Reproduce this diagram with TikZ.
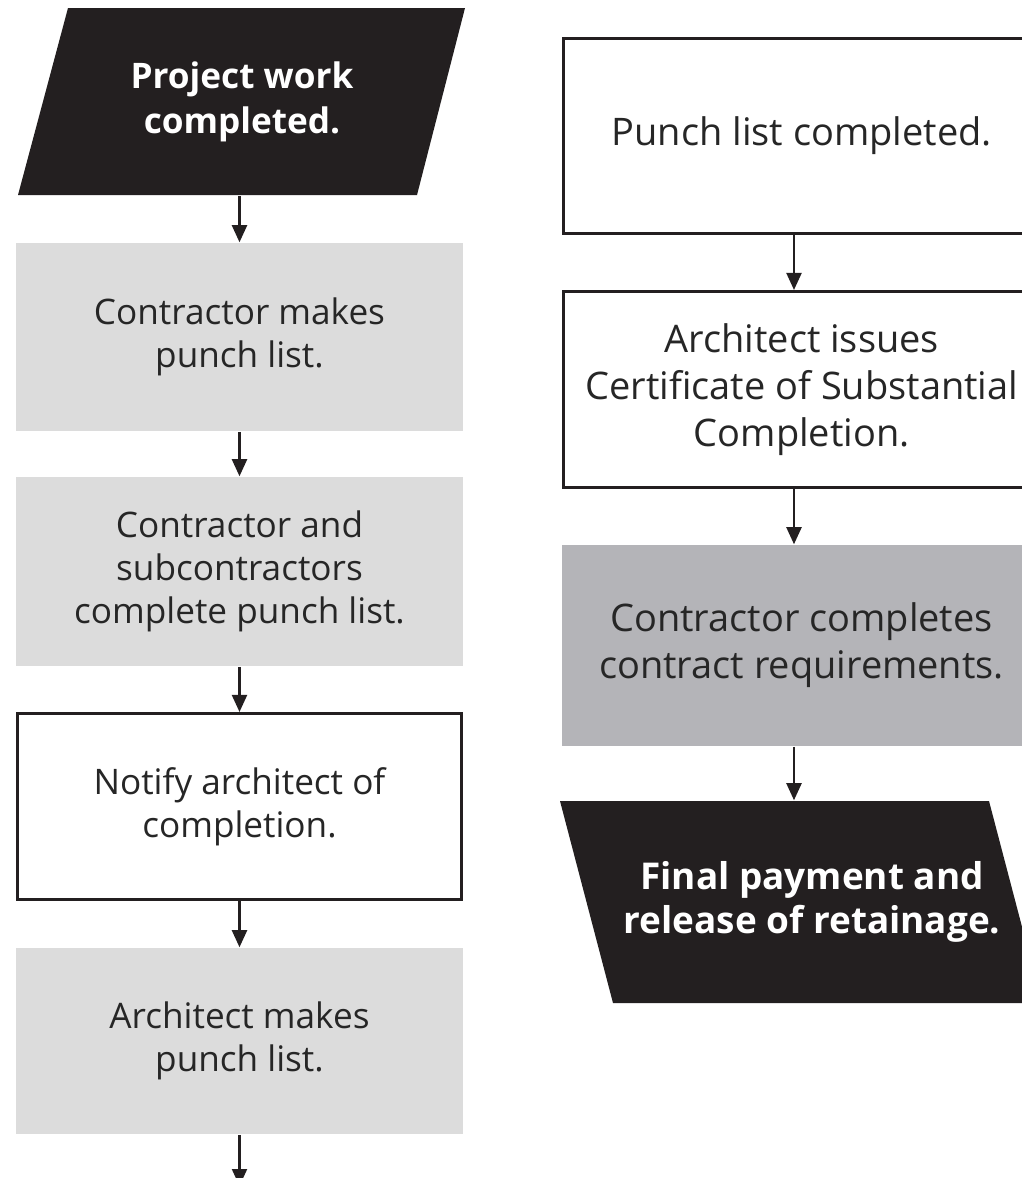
\documentclass[tikz,border=0pt]{standalone}
\usepackage{fontspec}
\setmainfont{Open Sans}
\usetikzlibrary{arrows.meta}
\definecolor{ink}{HTML}{231F20}
\definecolor{lightgr}{HTML}{DCDCDC}
\definecolor{midgr}{HTML}{B4B4B8}
\definecolor{txt}{HTML}{262626}
\begin{document}
\begin{tikzpicture}[x=0.01cm,y=-0.01cm,
  lbox/.style={rectangle, minimum width=4.47cm, inner sep=0pt, align=center, text=txt, font=\fontsize{10}{12.2}\selectfont},
  rbox/.style={rectangle, minimum width=4.78cm, inner sep=0pt, align=center, text=txt, font=\fontsize{10.8}{13.4}\selectfont},
  outlined/.style={draw=ink, line width=0.85pt},
  boldtext/.style={rectangle, inner sep=0pt, text=white, align=center, font=\bfseries\fontsize{10.5}{12.4}\selectfont},
  conn/.style={-{Triangle[width=0.15cm,length=0.17cm]}, line width=0.6pt, draw=ink}
]
\useasboundingbox (0,0) rectangle (1022,1178);
\clip (0,0) rectangle (1022,1178);
\fill[white] (0,0) rectangle (1022,1178);

% left column
\fill[ink] (68,8) -- (465,8) -- (417,195) -- (18,195) -- cycle;
\node[boldtext, font=\bfseries\fontsize{10}{12.8}\selectfont, minimum width=3.0cm, minimum height=1.87cm] (p1) at (242,102) {Project work\\completed.};
\node[lbox, fill=lightgr, minimum height=1.88cm] (b2) at (239.5,337) {Contractor makes\\punch list.};
\node[lbox, fill=lightgr, minimum height=1.89cm] (b3) at (239.5,571.5) {Contractor and\\subcontractors\\complete punch list.};
\node[lbox, outlined, fill=white, minimum width=4.44cm, minimum height=1.86cm] (b4) at (239.5,806.5) {Notify architect of\\completion.};
\node[lbox, fill=lightgr, minimum height=1.86cm] (b5) at (239.5,1041) {Architect makes\\punch list.};
\coordinate (lend) at (238,1186);

\draw[conn] (p1.south -| b2.north) -- (b2.north);
\draw[conn] (b2.south) -- (b3.north);
\draw[conn] (b3.south) -- (b4.north);
\draw[conn] (b4.south) -- (b5.north);
\draw[conn] (b5.south) -- (b5.south |- lend);

% right column
\node[rbox, outlined, fill=white, minimum width=4.77cm, minimum height=1.95cm] (r1) at (801.75,136) {Punch list completed.};
\node[rbox, outlined, fill=white, minimum width=4.77cm, minimum height=1.96cm] (r2) at (801.75,389.5) {Architect issues\\Certificate of Substantial\\Completion.};
\node[rbox, fill=midgr, minimum width=4.79cm, minimum height=2.01cm] (r3) at (801.5,645.5) {Contractor completes\\contract requirements.};
\fill[ink] (560,801) -- (989,801) -- (1042,1003) -- (613,1003) -- cycle;
\node[boldtext, minimum width=4.0cm, minimum height=2.02cm] (r4) at (812,902) {Final payment and\\release of retainage.};
\coordinate (rx) at (794,0);

\draw[conn] (r1.south -| rx) -- (r2.north -| rx);
\draw[conn] (r2.south -| rx) -- (r3.north -| rx);
\draw[conn] (r3.south -| rx) -- (r4.north -| rx);
\end{tikzpicture}
\end{document}
